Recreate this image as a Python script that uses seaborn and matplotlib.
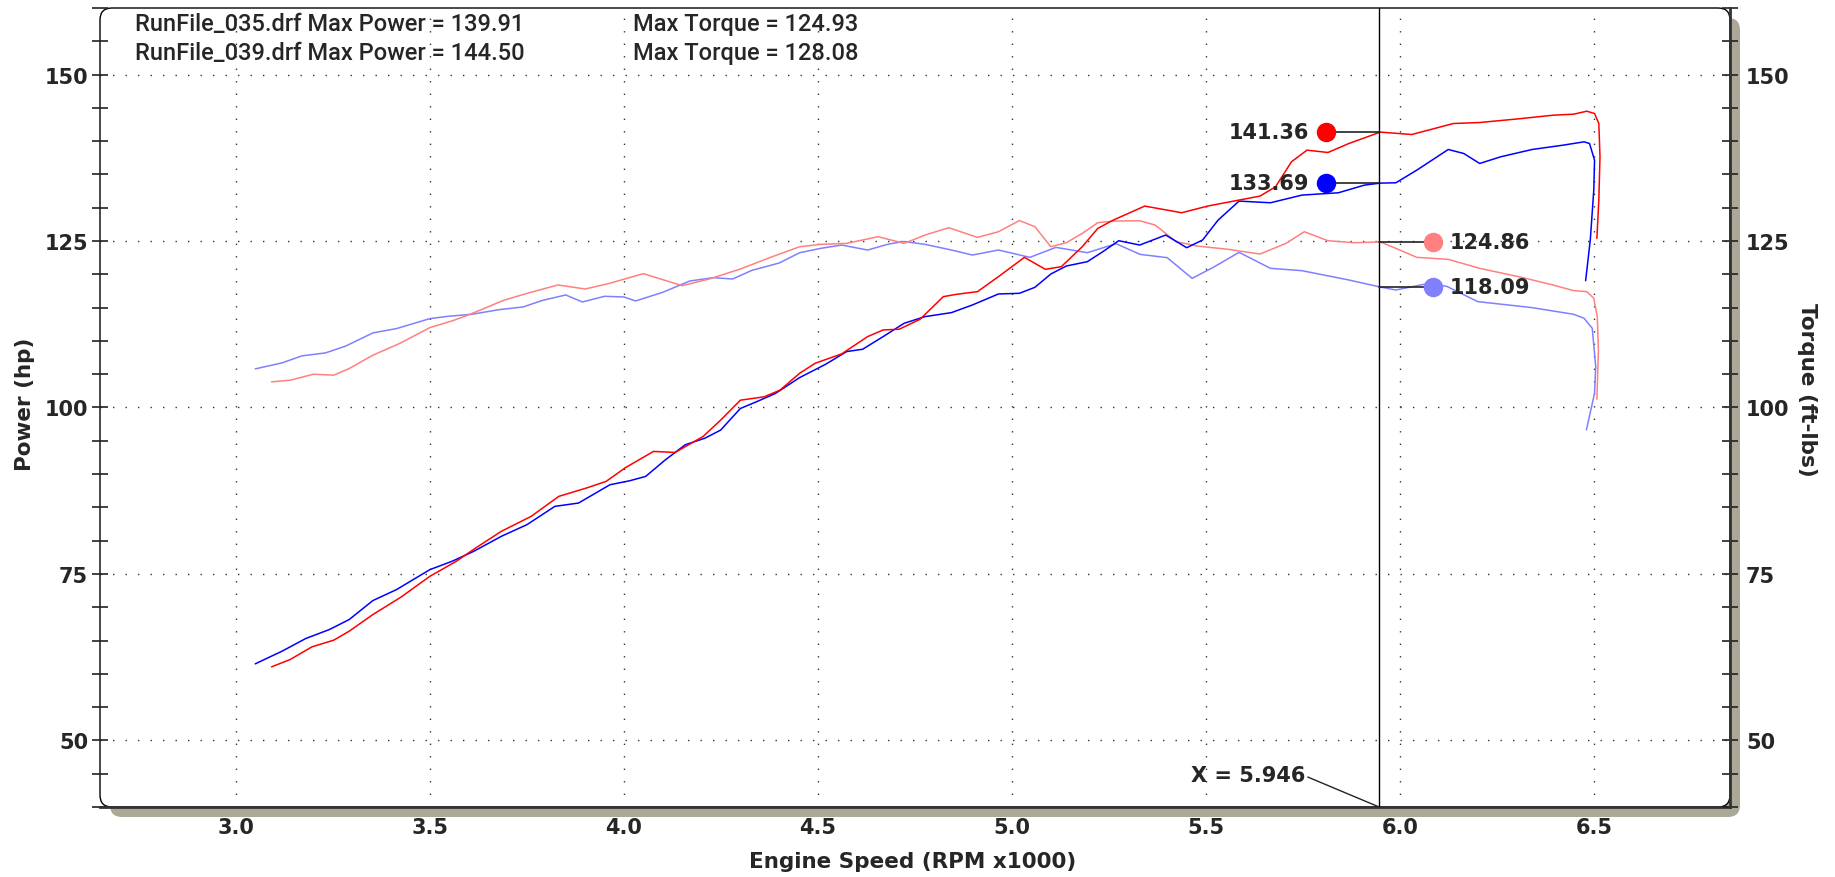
import numpy as np
import pandas as pd
import matplotlib
matplotlib.use("Agg")
import matplotlib.pyplot as plt
import seaborn as sns
from matplotlib.patches import FancyBboxPatch
from matplotlib.ticker import MultipleLocator, FormatStrFormatter
from matplotlib import font_manager

# run 035 (blue) power, hp
rpm_pw_035 = [3.050, 3.119, 3.180, 3.241, 3.292, 3.353, 3.414, 3.500, 3.557, 3.613,
              3.684, 3.750, 3.822, 3.883, 3.964, 4.015, 4.056, 4.107, 4.158, 4.209,
              4.249, 4.300, 4.341, 4.390, 4.453, 4.520, 4.574, 4.615, 4.668, 4.722,
              4.776, 4.844, 4.898, 4.965, 5.019, 5.059, 5.100, 5.140, 5.194, 5.234,
              5.275, 5.329, 5.396, 5.450, 5.491, 5.531, 5.585, 5.666, 5.747, 5.841,
              5.908, 5.949, 5.989, 6.043, 6.124, 6.164, 6.205, 6.259, 6.340, 6.420,
              6.474, 6.488, 6.501, 6.499, 6.490, 6.478]
pw_035 = [61.5, 63.4, 65.3, 66.65, 68.15, 71.0, 72.65, 75.65, 76.9, 78.4,
          80.65, 82.4, 85.15, 85.65, 88.4, 89.0, 89.65, 92.15, 94.4, 95.4,
          96.6, 99.85, 100.85, 102.1, 104.5, 106.5, 108.4, 108.75, 110.65, 112.65,
          113.65, 114.25, 115.4, 117.05, 117.15, 118.05, 120.05, 121.25, 121.9, 123.4,
          125.05, 124.4, 125.9, 124.0, 125.15, 128.15, 131.0, 130.75, 131.9, 132.25,
          133.4, 133.7, 133.75, 135.65, 138.75, 138.15, 136.65, 137.65, 138.75, 139.4,
          139.9, 139.65, 137.15, 132.65, 125.15, 119.05]

# run 039 (red) power, hp
rpm_pw_039 = [3.092, 3.140, 3.196, 3.252, 3.292, 3.353, 3.425, 3.500, 3.568, 3.618,
              3.684, 3.761, 3.832, 3.903, 3.954, 4.005, 4.076, 4.132, 4.204, 4.250,
              4.300, 4.361, 4.402, 4.453, 4.493, 4.561, 4.628, 4.668, 4.709, 4.763,
              4.823, 4.857, 4.911, 4.965, 5.032, 5.086, 5.127, 5.181, 5.221, 5.261,
              5.342, 5.437, 5.504, 5.571, 5.639, 5.679, 5.720, 5.760, 5.814, 5.868,
              5.949, 6.030, 6.137, 6.205, 6.313, 6.394, 6.447, 6.481, 6.501, 6.512,
              6.515, 6.512, 6.507]
pw_039 = [61.05, 62.15, 64.05, 65.05, 66.4, 68.9, 71.5, 74.65, 76.9, 78.9,
          81.4, 83.65, 86.65, 87.9, 88.9, 91.0, 93.4, 93.25, 95.65, 98.15,
          101.1, 101.6, 102.6, 105.15, 106.65, 108.05, 110.65, 111.65, 111.75, 113.25,
          116.65, 117.0, 117.4, 119.65, 122.55, 120.75, 121.15, 124.15, 126.9, 128.15,
          130.25, 129.25, 130.25, 131.0, 131.75, 133.15, 136.9, 138.65, 138.3, 139.65,
          141.36, 141.0, 142.65, 142.8, 143.4, 143.9, 144.05, 144.5, 144.15, 142.65,
          137.65, 131.15, 125.4]

# run 035 (light blue) torque, ft-lbs
rpm_tq_035 = [3.050, 3.119, 3.170, 3.231, 3.282, 3.353, 3.414, 3.500, 3.547, 3.608,
              3.679, 3.740, 3.791, 3.850, 3.893, 3.950, 4.000, 4.030, 4.100, 4.170,
              4.230, 4.280, 4.330, 4.400, 4.453, 4.507, 4.561, 4.628, 4.682, 4.722,
              4.776, 4.844, 4.898, 4.965, 5.046, 5.113, 5.194, 5.268, 5.330, 5.400,
              5.464, 5.517, 5.585, 5.666, 5.747, 5.868, 5.949, 5.989, 6.070, 6.120,
              6.200, 6.340, 6.447, 6.474, 6.495, 6.504, 6.501, 6.480]
tq_035 = [105.8, 106.7, 107.75, 108.2, 109.2, 111.2, 111.85, 113.35, 113.7, 114.0,
          114.7, 115.1, 116.1, 116.9, 115.85, 116.7, 116.6, 116.0, 117.3, 119.0,
          119.5, 119.3, 120.6, 121.7, 123.25, 123.9, 124.4, 123.65, 124.55, 124.93,
          124.5, 123.65, 122.9, 123.65, 122.55, 124.05, 123.25, 124.6, 123.0, 122.5,
          119.4, 121.0, 123.3, 120.9, 120.55, 119.15, 118.09, 117.65, 118.6, 118.2,
          115.9, 115.0, 114.0, 113.4, 111.9, 106.15, 102.15, 96.65]

# run 039 (pink) torque, ft-lbs
rpm_tq_039 = [3.092, 3.140, 3.200, 3.252, 3.292, 3.353, 3.425, 3.500, 3.557, 3.597,
              3.649, 3.690, 3.760, 3.830, 3.900, 3.960, 4.050, 4.150, 4.220, 4.300,
              4.380, 4.453, 4.507, 4.574, 4.655, 4.722, 4.776, 4.837, 4.911, 4.965,
              5.019, 5.059, 5.100, 5.140, 5.181, 5.221, 5.261, 5.329, 5.369, 5.423,
              5.477, 5.558, 5.639, 5.706, 5.753, 5.814, 5.881, 5.949, 5.989, 6.043,
              6.124, 6.205, 6.313, 6.394, 6.447, 6.481, 6.499, 6.508, 6.511, 6.507]
tq_039 = [103.85, 104.1, 105.0, 104.85, 105.85, 107.85, 109.7, 112.0, 113.0, 113.85,
          115.1, 116.1, 117.3, 118.4, 117.8, 118.6, 120.1, 118.3, 119.3, 120.8,
          122.6, 124.15, 124.5, 124.65, 125.65, 124.65, 125.9, 127.0, 125.55, 126.4,
          128.08, 127.15, 124.15, 124.75, 126.15, 127.75, 128.0, 128.05, 127.4, 124.9,
          124.25, 123.75, 123.05, 124.65, 126.4, 125.05, 124.75, 124.86, 123.9, 122.55,
          122.25, 120.9, 119.55, 118.4, 117.55, 117.4, 116.4, 113.65, 108.65, 101.25]

header_lines = [("RunFile_035.drf Max Power = 139.91", "Max Torque = 124.93"),
                ("RunFile_039.drf Max Power = 144.50", "Max Torque = 128.08")]

cursor_x = 5.946
# cursor readouts: value, colour, marker x, side of label
readouts = [(141.36, "#ff0000", 5.81, "left"),
            (133.69, "#0000ff", 5.81, "left"),
            (124.86, "#ff8080", 6.084, "right"),
            (118.09, "#8080ff", 6.084, "right")]

series = [(rpm_tq_035, tq_035, "#8080ff"),
          (rpm_tq_039, tq_039, "#ff8080"),
          (rpm_pw_035, pw_035, "#0000ff"),
          (rpm_pw_039, pw_039, "#ff0000")]

sns.set_theme(style="white")
plt.rcParams["font.family"] = ["DejaVu Sans"]
names = {f.name for f in font_manager.fontManager.ttflist}
head_font = "Roboto" if "Roboto" in names else "DejaVu Sans"

W, H = 1835, 878
fig = plt.figure(figsize=(W / 100, H / 100), dpi=100)
fig.patch.set_facecolor("white")

x0, x1, y0, y1 = 100, 1730, 9, 808  # axes box in pixels (from top)
ax = fig.add_axes([x0 / W, 1 - y1 / H, (x1 - x0) / W, (y1 - y0) / H])
ax.patch.set_visible(False)

# shadow and rounded frame (in inches so the rounding is round)
bl = (x0 / 100, (H - y1) / 100)
bw, bh = (x1 - x0) / 100, (y1 - y0) / 100
shadow = FancyBboxPatch((bl[0] + 0.10, bl[1] - 0.10), bw, bh,
                        boxstyle="round,pad=0,rounding_size=0.12",
                        transform=fig.dpi_scale_trans, facecolor="#aca898",
                        edgecolor="none", zorder=-2)
fig.patches.append(shadow)
frame = FancyBboxPatch(bl, bw, bh, boxstyle="round,pad=0,rounding_size=0.12",
                       transform=fig.dpi_scale_trans, facecolor="white",
                       edgecolor="black", lw=1.0, zorder=-1)
fig.patches.append(frame)

for rx, ry, col in series:
    df = pd.DataFrame({"rpm": rx, "val": ry})
    sns.lineplot(data=df, x="rpm", y="val", sort=False, estimator=None,
                 color=col, lw=1.1, ax=ax, zorder=3)

ax.set_xlim(2.65, 6.85)
ax.set_ylim(40, 160)
ax.xaxis.set_major_locator(MultipleLocator(0.5))
ax.xaxis.set_minor_locator(MultipleLocator(0.1))
ax.xaxis.set_major_formatter(FormatStrFormatter("%.1f"))
ax.yaxis.set_major_locator(MultipleLocator(25))
ax.yaxis.set_minor_locator(MultipleLocator(5))
ax.grid(True, which="major", linestyle=(0, (1, 8)), color="#333333", lw=1.0)
ax.set_axisbelow(True)
ax.set_xlabel("")
ax.set_ylabel("")

for s in ["left", "top", "right"]:
    ax.spines[s].set_visible(False)
ax.spines["bottom"].set_linewidth(2.0)
ax.spines["bottom"].set_color("#333333")
ax.tick_params(axis="x", which="both", direction="inout", length=11, width=1.2,
               color="#222222", labelsize=15, pad=2)
ax.tick_params(axis="y", which="both", direction="inout", length=11, width=1.2,
               color="#222222", labelsize=15, pad=3)
for lab in ax.get_xticklabels() + ax.get_yticklabels():
    lab.set_fontweight("bold")

ax2 = ax.twinx()
ax2.set_ylim(40, 160)
ax2.yaxis.set_major_locator(MultipleLocator(25))
ax2.yaxis.set_minor_locator(MultipleLocator(5))
for s in ["left", "top", "bottom"]:
    ax2.spines[s].set_visible(False)
ax2.spines["right"].set_linewidth(2.0)
ax2.spines["right"].set_color("#333333")
ax2.tick_params(axis="y", which="both", direction="inout", length=11, width=1.2,
                color="#222222", labelsize=15, pad=6)
for lab in ax2.get_yticklabels():
    lab.set_fontweight("bold")
ax2.set_ylabel("")

# cursor line and readouts
ax.plot([cursor_x, cursor_x], [40, 160], color="black", lw=1.0, zorder=4)
for val, col, mx, side in readouts:
    ax.plot([min(mx, cursor_x), max(mx, cursor_x)], [val, val], color="#222222",
            lw=1.2, zorder=4)
    ax.plot([mx], [val], "o", color=col, ms=13, zorder=5)
    if side == "left":
        ax.text(mx - 0.045, val, f"{val:.2f}", ha="right", va="center",
                fontsize=15, fontweight="bold", zorder=6)
    else:
        ax.text(mx + 0.045, val, f"{val:.2f}", ha="left", va="center",
                fontsize=15, fontweight="bold", zorder=6)

ax.plot([5.762, cursor_x], [44.5, 40.0], color="#222222", lw=1.0, zorder=4)
ax.text(5.755, 44.8, f"X = {cursor_x:.3f}", ha="right", va="center",
        fontsize=15, fontweight="bold", zorder=6)

for i, (a, b) in enumerate(header_lines):
    yy = 0.981 - i * 0.037
    ax.text(0.0215, yy, a, transform=ax.transAxes, ha="left", va="center",
            fontsize=17, family=head_font, fontweight="medium")
    ax.text(0.327, yy, b, transform=ax.transAxes, ha="left", va="center",
            fontsize=17, family=head_font, fontweight="medium")

fig.text(0.4975, 0.018, "Engine Speed (RPM x1000)", ha="center", va="center",
         fontsize=15.5, fontweight="bold")
fig.text(0.0135, 0.54, "Power (hp)", ha="center", va="center", rotation=90,
         fontsize=15.5, fontweight="bold")
fig.text(0.985, 0.556, "Torque (ft-lbs)", ha="center", va="center", rotation=270,
         fontsize=15.5, fontweight="bold")

fig.savefig("out.png", dpi=100)
